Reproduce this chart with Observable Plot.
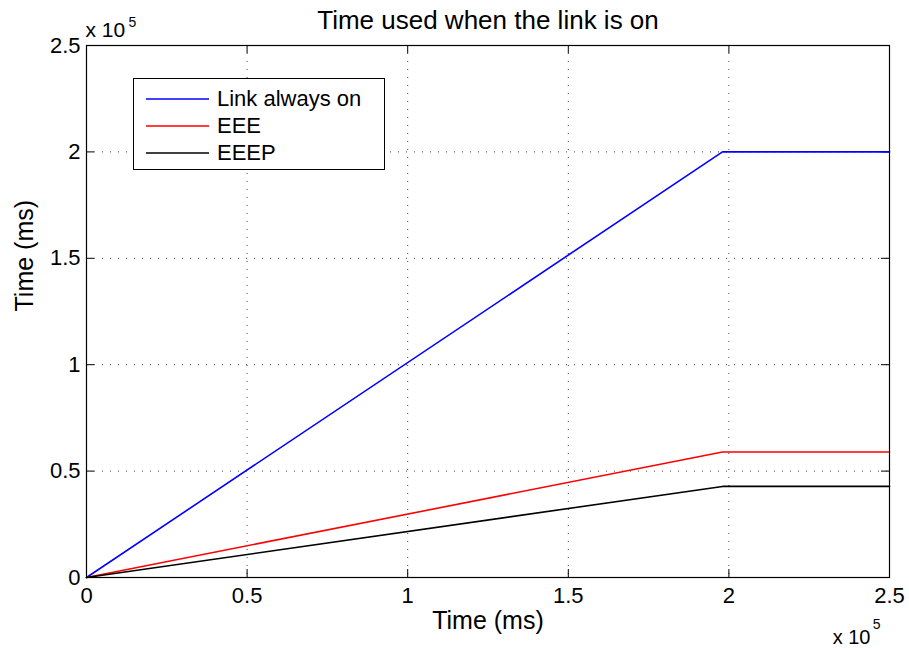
<!DOCTYPE html>
<html>
<head>
<meta charset="utf-8">
<script src="https://cdn.jsdelivr.net/npm/d3@7"></script>
<script src="https://cdn.jsdelivr.net/npm/@observablehq/plot@0.6"></script>
<style>
  html, body { margin: 0; padding: 0; background: #fff; }
  #wrap { position: relative; width: 909px; height: 650px; font-family: "Liberation Sans", Arial, sans-serif; }
  #legend { position: absolute; left: 133px; top: 78px; width: 250px; height: 90px; border: 1px solid #000; background: #fff; }
  .row { position: absolute; left: 0; height: 26px; display: flex; align-items: center; font-size: 22px; color: #000; white-space: nowrap; }
  .row svg { margin-left: 12px; margin-right: 8px; }
</style>
</head>
<body>
<div id="wrap"></div>
<script>
// ---- data ----
const timeX = [0, 198000, 250000];
const linkAlwaysOn = [0, 200000, 200000];
const eee = [0, 59000, 59000];
const eeep = [0, 42800, 42800];

const seriesNames = ["Link always on", "EEE", "EEEP"];
const seriesColors = ["#0000ff", "#ff0000", "#000000"];

const xTicks = [0, 50000, 100000, 150000, 200000, 250000];
const xTickLabels = ["0", "0.5", "1", "1.5", "2", "2.5"];
const yTicks = [0, 50000, 100000, 150000, 200000, 250000];
const yTickLabels = ["0", "0.5", "1", "1.5", "2", "2.5"];

const titleText = "Time used when the link is on";
const xLabel = "Time (ms)";
const yLabel = "Time (ms)";

// ---- build table ----
const allSeries = [linkAlwaysOn, eee, eeep];
const table = [];
allSeries.forEach((vals, s) => {
  vals.forEach((v, i) => table.push({series: seriesNames[s], x: timeX[i], y: v}));
});

const W = 909, H = 650;
const mL = 86, mR = 20, mT = 45, mB = 73;
const plotH = H - mT - mB, plotW = W - mL - mR;
const tickLen = 8;
const font = "Liberation Sans, Arial, sans-serif";

const chart = Plot.plot({
  width: W,
  height: H,
  marginLeft: mL,
  marginRight: mR,
  marginTop: mT,
  marginBottom: mB,
  style: {fontFamily: font, fontSize: "22px", color: "#000", background: "#fff"},
  x: {domain: [0, 250000], ticks: xTicks},
  y: {domain: [0, 250000], ticks: yTicks},
  color: {domain: seriesNames, range: seriesColors},
  marks: [
    Plot.gridX(xTicks, {stroke: "#000", strokeOpacity: 0.75, strokeDasharray: "1,7", strokeWidth: 1}),
    Plot.gridY(yTicks, {stroke: "#000", strokeOpacity: 0.75, strokeDasharray: "1,7", strokeWidth: 1}),
    // inward ticks on all four sides
    Plot.ruleX(xTicks, {x: d => d, insetTop: plotH - tickLen, stroke: "#000"}),
    Plot.ruleX(xTicks, {x: d => d, insetBottom: plotH - tickLen, stroke: "#000"}),
    Plot.ruleY(yTicks, {y: d => d, insetRight: plotW - tickLen, stroke: "#000"}),
    Plot.ruleY(yTicks, {y: d => d, insetLeft: plotW - tickLen, stroke: "#000"}),
    Plot.line(table, {x: "x", y: "y", z: "series", stroke: "series", strokeWidth: 1.6}),
    Plot.frame({stroke: "#000", strokeWidth: 1.2}),
    Plot.axisX(xTicks, {tickSize: 0, tickPadding: 10, tickFormat: (d, i) => xTickLabels[i], label: null, fontSize: 22}),
    Plot.axisY(yTicks, {tickSize: 0, tickPadding: 6, tickFormat: (d, i) => yTickLabels[i], label: null, fontSize: 22}),
    Plot.text([titleText], {frameAnchor: "top", dy: -25, fontSize: 26, lineAnchor: "middle"}),
    Plot.text([xLabel], {frameAnchor: "bottom", dy: 43, fontSize: 25, lineAnchor: "middle"}),
    Plot.text([yLabel], {frameAnchor: "left", dx: -62, rotate: -90, fontSize: 25, lineAnchor: "middle"}),
    // exponent labels
    Plot.text(["x 10"], {frameAnchor: "top-left", dx: -1, dy: -15, textAnchor: "start", fontSize: 21, lineAnchor: "middle"}),
    Plot.text(["5"], {frameAnchor: "top-left", dx: 42, dy: -23, textAnchor: "start", fontSize: 14, lineAnchor: "middle"}),
    Plot.text(["x 10"], {frameAnchor: "bottom-right", dx: -19, dy: 60, textAnchor: "end", fontSize: 20, lineAnchor: "middle"}),
    Plot.text(["5"], {frameAnchor: "bottom-right", dx: -9, dy: 47, textAnchor: "end", fontSize: 14, lineAnchor: "middle"})
  ]
});

const wrap = document.getElementById("wrap");
wrap.appendChild(chart);

// legend
const legend = document.createElement("div");
legend.id = "legend";
seriesNames.forEach((name, i) => {
  const row = document.createElement("div");
  row.className = "row";
  row.style.top = (7 + i * 27) + "px";
  row.innerHTML = `<svg width="63" height="4"><line x1="0" x2="63" y1="2" y2="2" stroke="${seriesColors[i]}" stroke-width="1.6"/></svg><span>${name}</span>`;
  legend.appendChild(row);
});
wrap.appendChild(legend);
</script>
</body>
</html>
